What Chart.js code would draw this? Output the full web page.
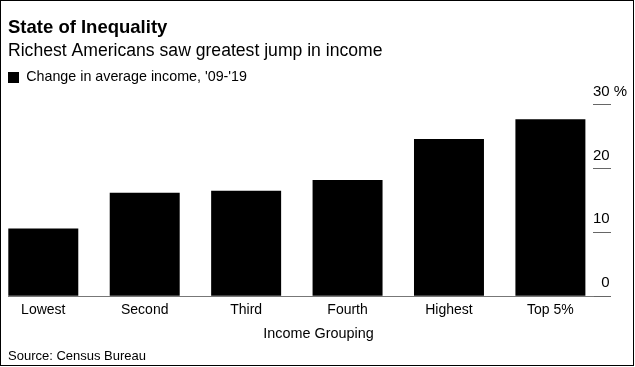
<!DOCTYPE html>
<html>
<head>
<meta charset="utf-8">
<script src="https://cdn.jsdelivr.net/npm/chart.js@4.4.1/dist/chart.umd.min.js"></script>
<style>
  body { margin: 0; background: #fff; }
  #wrap { position: relative; width: 635px; height: 367px; }
  #chart { position: absolute; left: 0; top: 0; }
  .frame { position: absolute; left: 0; top: 0; width: 634px; height: 366px; border: 1px solid #000; box-sizing: border-box; pointer-events: none; }
  .note { position: absolute; font-family: "Liberation Sans", Arial, Helvetica, sans-serif; color: #000; white-space: nowrap; }
  #xtitle { left: 0; width: 637px; text-align: center; top: 325px; font-size: 14.4px; line-height: 16px; }
  #source { left: 8px; top: 348px; font-size: 13px; line-height: 16px; }
</style>
</head>
<body>
<div id="wrap">
  <canvas id="chart" width="635" height="367"></canvas>
  <div class="note" id="xtitle">Income Grouping</div>
  <div class="note" id="source">Source: Census Bureau</div>
  <div class="frame"></div>
</div>
<script>
// data
const groups = ["Lowest", "Second", "Third", "Fourth", "Highest", "Top 5%"];
const incomeChange = [10.6, 16.2, 16.5, 18.2, 24.6, 27.7];
const yTicks = [0, 10, 20, 30];

Chart.defaults.font.family = '"Liberation Sans", Arial, Helvetica, sans-serif';
Chart.defaults.color = "#000";

// State of Inequality chart
(function () {
  const points = groups.map((g, i) => ({ x: i, y: incomeChange[i] }));

  const chartElement = document.getElementById("chart");
  const incomeChart = new Chart(chartElement, {
    type: "bar",
    data: {
      datasets: [
        {
          label: "Change in average income, '09-'19",
          data: points,
          backgroundColor: "#000",
          borderWidth: 0,
          barPercentage: 0.69,
          categoryPercentage: 1,
        },
      ],
    },
    options: {
      responsive: false,
      animation: false,
      devicePixelRatio: 1,
      layout: {
        padding: { left: 8, right: 0, top: 0, bottom: 42 },
      },
      plugins: {
        tooltip: { enabled: false },
        title: {
          display: true,
          text: "State of Inequality",
          align: "start",
          font: { size: 18.5, weight: "bold", lineHeight: 1.2 },
          padding: { top: 17, bottom: 0 },
        },
        subtitle: {
          display: true,
          text: "Richest Americans saw greatest jump in income",
          align: "start",
          font: { size: 17.6, lineHeight: 1.2 },
          padding: { top: 1, bottom: 9 },
        },
        legend: {
          display: true,
          position: "top",
          align: "start",
          labels: {
            boxWidth: 11,
            boxHeight: 11,
            padding: 0,
            font: { size: 14.3 },
          },
        },
      },
      scales: {
        x: {
          type: "linear",
          offset: false,
          min: -0.348,
          max: 5.42,
          afterBuildTicks: (axis) => {
            axis.ticks = groups.map((g, i) => ({ value: i }));
          },
          ticks: {
            callback: (v) => groups[v],
            font: { size: 14 },
            padding: 6,
            autoSkip: false,
            maxRotation: 0,
          },
          grid: { display: false, drawTicks: false, tickLength: 0, offset: false },
          border: { display: true, color: "#777", width: 1, z: 1 },
        },
        y: {
          position: "right",
          min: 0,
          max: 31.57,
          afterBuildTicks: (axis) => {
            axis.ticks = yTicks.map((v) => ({ value: v }));
          },
          afterFit: (axis) => {
            axis.width = 42;
          },
          ticks: {
            callback: (v) => (v === 30 ? "30 %" : v === 0 ? "\u20070" : String(v)),
            font: { size: 15 },
            padding: -18,
            labelOffset: -13,
          },
          grid: {
            drawOnChartArea: false,
            drawTicks: true,
            tickLength: 18,
            color: "#666",
          },
          border: { display: false },
        },
      },
    },
  });
})();
// State of Inequality chart
</script>
</body>
</html>
